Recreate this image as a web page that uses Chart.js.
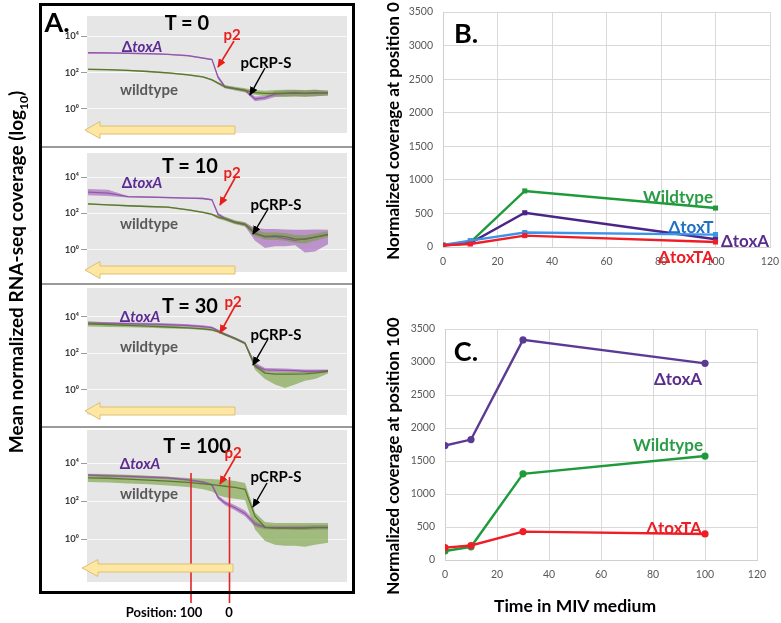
<!DOCTYPE html>
<html>
<head>
<meta charset="utf-8">
<script src="https://cdn.jsdelivr.net/npm/chart.js@4.4.1/dist/chart.umd.min.js"></script>
<style>
  body { margin: 0; width: 781px; height: 623px; position: relative; overflow: hidden; background: #fff; font-family: Lato, "Open Sans", "DejaVu Sans", sans-serif; }
  .box { position: absolute; }
  .lbl { position: absolute; transform: translate(-50%, -50%); font-weight: bold; line-height: 1; white-space: nowrap; }
  .rot { transform: translate(-50%, -50%) rotate(-90deg); }
  .it { font-style: italic; }
</style>
</head>
<body>

<div class="box" style="left:42px;top:6px"><canvas id="covT0" width="310" height="141"></canvas></div>
<div class="box" style="left:42px;top:148px"><canvas id="covT10" width="310" height="136"></canvas></div>
<div class="box" style="left:42px;top:285px"><canvas id="covT30" width="310" height="142"></canvas></div>
<div class="box" style="left:42px;top:428px"><canvas id="covT100" width="310" height="164"></canvas></div>
<div class="box" style="left:375px;top:0px"><canvas id="pos0Chart" width="406" height="280"></canvas></div>
<div class="box" style="left:375px;top:300px"><canvas id="pos100Chart" width="406" height="323"></canvas></div>

<svg class="box" style="left:0;top:0" width="781" height="623">
  <defs>
    <marker id="headRed" markerWidth="9" markerHeight="8" refX="8" refY="4" orient="auto" markerUnits="userSpaceOnUse"><path d="M0,0 L9,4 L0,8 z" fill="#e8201c"/></marker>
    <marker id="headBlack" markerWidth="9" markerHeight="8" refX="8" refY="4" orient="auto" markerUnits="userSpaceOnUse"><path d="M0,0 L9,4 L0,8 z" fill="#000"/></marker>
  </defs>
  <!-- panel A frame -->
  <g stroke="#9a9a9a" stroke-width="2">
    <line x1="41" y1="147" x2="353" y2="147"/>
    <line x1="41" y1="284" x2="353" y2="284"/>
    <line x1="41" y1="427" x2="353" y2="427"/>
  </g>
  <!-- position markers -->
  <g stroke="#e02626" stroke-width="1.6">
    <line x1="191" y1="473" x2="191" y2="603"/>
    <line x1="229.5" y1="477" x2="229.5" y2="603"/>
  </g>
  <rect x="40.5" y="4.5" width="313" height="588" fill="none" stroke="#000" stroke-width="3"/>
  <!-- yellow direction arrows -->
  <g fill="#fde7a3" stroke="#dcc070" stroke-width="1">
    <path d="M85,130 L100,121.5 L100,126 L235,126 L235,134 L100,134 L100,138.5 Z"/>
    <path d="M85,270 L100,261.5 L100,266 L235,266 L235,274 L100,274 L100,278.5 Z"/>
    <path d="M85,411 L100,402.5 L100,407 L235,407 L235,415 L100,415 L100,419.5 Z"/>
    <path d="M82,568 L98,559.5 L98,564 L233,564 L233,572 L98,572 L98,576.5 Z"/>
  </g>
  <!-- p2 pointers -->
  <g stroke="#e8201c" stroke-width="1.6" marker-end="url(#headRed)">
    <line x1="234" y1="41" x2="218" y2="67"/>
    <line x1="235" y1="178" x2="220" y2="205"/>
    <line x1="235" y1="306" x2="220" y2="333"/>
    <line x1="235" y1="458" x2="220" y2="484"/>
  </g>
  <!-- pCRP-S pointers -->
  <g stroke="#000" stroke-width="1.4" marker-end="url(#headBlack)">
    <line x1="265" y1="68" x2="250" y2="95"/>
    <line x1="268" y1="209" x2="253" y2="234"/>
    <line x1="268" y1="339" x2="253" y2="365"/>
    <line x1="267" y1="483" x2="253" y2="507"/>
  </g>
</svg>

<div class="lbl rot" style="left:18px;top:272px;font-size:19px">Mean normalized RNA-seq coverage (log<sub style="font-size:12px">10</sub>)</div>
<div class="lbl rot" style="left:392px;top:131px;font-size:17px">Normalized coverage at position 0</div>
<div class="lbl rot" style="left:392px;top:456px;font-size:17px">Normalized coverage at position 100</div>
<div class="lbl" style="left:575px;top:606px;font-size:17.5px">Time in MIV medium</div>

<div class="lbl" style="left:57px;top:21px;font-size:27px">A.</div>
<div class="lbl" style="left:187px;top:22px;font-size:20px">T = 0</div>
<div class="lbl" style="left:190px;top:165px;font-size:20px">T = 10</div>
<div class="lbl" style="left:190px;top:305px;font-size:20px">T = 30</div>
<div class="lbl" style="left:197px;top:445px;font-size:20px">T = 100</div>

<div class="lbl" style="left:142px;top:46px;font-size:15px;color:#5b2a92">Δ<span class="it">toxA</span></div>
<div class="lbl" style="left:142px;top:182px;font-size:15px;color:#5b2a92">Δ<span class="it">toxA</span></div>
<div class="lbl" style="left:140px;top:316px;font-size:15px;color:#5b2a92">Δ<span class="it">toxA</span></div>
<div class="lbl" style="left:140px;top:463px;font-size:15px;color:#5b2a92">Δ<span class="it">toxA</span></div>

<div class="lbl" style="left:149px;top:89px;font-size:15px;color:#595959">wildtype</div>
<div class="lbl" style="left:149px;top:223px;font-size:15px;color:#595959">wildtype</div>
<div class="lbl" style="left:149px;top:346px;font-size:15px;color:#595959">wildtype</div>
<div class="lbl" style="left:149px;top:493px;font-size:15px;color:#595959">wildtype</div>

<div class="lbl" style="left:232px;top:34px;font-size:15px;color:#e8201c">p2</div>
<div class="lbl" style="left:232px;top:172px;font-size:15px;color:#e8201c">p2</div>
<div class="lbl" style="left:233px;top:301px;font-size:15px;color:#e8201c">p2</div>
<div class="lbl" style="left:233px;top:452px;font-size:15px;color:#e8201c">p2</div>

<div class="lbl" style="left:266px;top:62px;font-size:15px">pCRP-S</div>
<div class="lbl" style="left:276px;top:204px;font-size:15px">pCRP-S</div>
<div class="lbl" style="left:276px;top:334px;font-size:15px">pCRP-S</div>
<div class="lbl" style="left:276px;top:476px;font-size:15px">pCRP-S</div>

<div class="lbl" style="left:164px;top:612px;font-size:13px">Position: 100</div>
<div class="lbl" style="left:229px;top:612px;font-size:13px">0</div>

<div class="lbl" style="left:466px;top:32px;font-size:27px">B.</div>
<div class="lbl" style="left:678px;top:196px;font-size:17px;color:#2a9c45">Wildtype</div>
<div class="lbl" style="left:691px;top:226px;font-size:17px;color:#1f6fc5">ΔtoxT</div>
<div class="lbl" style="left:745px;top:240px;font-size:17px;color:#5a2d8c">ΔtoxA</div>
<div class="lbl" style="left:686px;top:256px;font-size:17px;color:#ee1c24">ΔtoxTA</div>

<div class="lbl" style="left:466px;top:350px;font-size:27px">C.</div>
<div class="lbl" style="left:678px;top:378px;font-size:17px;color:#5a2d8c">ΔtoxA</div>
<div class="lbl" style="left:668px;top:444px;font-size:17px;color:#2a9c45">Wildtype</div>
<div class="lbl" style="left:674px;top:527px;font-size:17px;color:#ee1c24">ΔtoxTA</div>

<script>
// genome window shown in panel A (bp)
const positions = [703100, 703140, 703180, 703220, 703260, 703300, 703330, 703348, 703360, 703374,
                   703394, 703414, 703434, 703454, 703474, 703494, 703514, 703534, 703554, 703580];
const genomeTicks = [703200, 703400, 703600];
const logTicks = [0, 2, 4];

// log10 coverage
const toxA_T0    = [3.09, 3.08, 3.06, 3.04, 3.00, 2.93, 2.80, 2.72, 1.75, 1.22, 1.12, 1.03, 0.55, 0.62, 0.82, 0.86, 0.88, 0.86, 0.88, 0.87];
const toxA_T0_hi = [3.13, 3.12, 3.10, 3.08, 3.04, 2.97, 2.84, 2.76, 1.85, 1.30, 1.18, 1.10, 0.68, 0.72, 0.98, 1.02, 1.05, 1.02, 1.06, 1.00];
const toxA_T0_lo = [3.05, 3.04, 3.02, 3.00, 2.96, 2.89, 2.76, 2.68, 1.65, 1.14, 1.06, 0.96, 0.42, 0.50, 0.66, 0.70, 0.70, 0.70, 0.70, 0.74];
const wt_T0      = [2.18, 2.16, 2.12, 2.06, 1.98, 1.88, 1.76, 1.60, 1.42, 1.22, 1.12, 1.02, 0.90, 0.86, 0.86, 0.86, 0.88, 0.86, 0.88, 0.88];
const wt_T0_hi   = [2.22, 2.20, 2.16, 2.10, 2.02, 1.92, 1.80, 1.65, 1.48, 1.30, 1.22, 1.14, 1.04, 1.00, 1.04, 1.06, 1.06, 1.04, 1.06, 1.02];
const wt_T0_lo   = [2.14, 2.12, 2.08, 2.02, 1.94, 1.84, 1.72, 1.55, 1.36, 1.14, 1.02, 0.90, 0.78, 0.70, 0.68, 0.66, 0.68, 0.66, 0.70, 0.74];

const toxA_T10    = [3.17, 3.12, 2.92, 2.90, 2.87, 2.84, 2.82, 2.75, 1.95, 1.72, 1.52, 1.40, 0.95, 0.70, 0.72, 0.62, 0.52, 0.62, 0.70, 0.82];
const toxA_T10_hi = [3.34, 3.30, 2.96, 2.94, 2.91, 2.88, 2.86, 2.79, 2.03, 1.80, 1.60, 1.50, 1.20, 1.15, 1.15, 1.12, 1.10, 1.10, 1.12, 1.10];
const toxA_T10_lo = [3.00, 2.96, 2.88, 2.86, 2.83, 2.80, 2.78, 2.71, 1.87, 1.64, 1.44, 1.30, 0.50, 0.10, 0.20, 0.20, 0.25, -0.15, -0.10, 0.30];
const wt_T10      = [2.52, 2.47, 2.42, 2.38, 2.34, 2.20, 2.06, 1.95, 1.80, 1.70, 1.50, 1.40, 0.88, 0.74, 0.76, 0.72, 0.60, 0.57, 0.70, 0.85];
const wt_T10_hi   = [2.56, 2.51, 2.46, 2.42, 2.38, 2.24, 2.10, 2.00, 1.90, 1.82, 1.62, 1.52, 1.10, 0.95, 0.95, 0.92, 0.82, 0.80, 0.90, 1.00];
const wt_T10_lo   = [2.48, 2.43, 2.38, 2.34, 2.30, 2.16, 2.02, 1.90, 1.70, 1.60, 1.40, 1.28, 0.75, 0.55, 0.55, 0.50, 0.38, 0.35, 0.50, 0.70];

const toxA_T30    = [3.65, 3.63, 3.62, 3.60, 3.57, 3.52, 3.46, 3.40, 3.24, 3.05, 2.82, 2.55, 1.35, 1.10, 1.08, 1.07, 1.05, 1.02, 1.02, 1.05];
const toxA_T30_hi = [3.72, 3.70, 3.69, 3.67, 3.64, 3.59, 3.53, 3.47, 3.30, 3.11, 2.88, 2.62, 1.50, 1.20, 1.18, 1.17, 1.15, 1.12, 1.12, 1.12];
const toxA_T30_lo = [3.58, 3.56, 3.55, 3.53, 3.50, 3.45, 3.39, 3.33, 3.18, 2.99, 2.76, 2.48, 1.20, 1.00, 0.98, 0.97, 0.95, 0.92, 0.92, 0.98];
const wt_T30      = [3.61, 3.57, 3.53, 3.49, 3.44, 3.39, 3.34, 3.28, 3.18, 3.02, 2.80, 2.55, 1.30, 0.92, 0.86, 0.86, 0.86, 0.88, 0.92, 1.02];
const wt_T30_hi   = [3.75, 3.70, 3.64, 3.58, 3.52, 3.45, 3.40, 3.34, 3.24, 3.08, 2.86, 2.62, 1.45, 1.02, 0.98, 0.98, 0.98, 0.98, 1.00, 1.06];
const wt_T30_lo   = [3.47, 3.44, 3.42, 3.40, 3.36, 3.33, 3.28, 3.22, 3.12, 2.96, 2.74, 2.48, 1.10, 0.60, 0.30, 0.10, 0.30, 0.50, 0.60, 0.90];

const toxA_T100    = [3.36, 3.33, 3.30, 3.26, 3.22, 3.12, 3.00, 2.85, 2.20, 1.90, 1.65, 1.35, 0.80, 0.62, 0.60, 0.60, 0.60, 0.60, 0.62, 0.62];
const toxA_T100_hi = [3.42, 3.39, 3.36, 3.32, 3.28, 3.18, 3.06, 2.91, 2.30, 2.02, 1.78, 1.50, 0.95, 0.72, 0.70, 0.70, 0.72, 0.72, 0.74, 0.74];
const toxA_T100_lo = [3.30, 3.27, 3.24, 3.20, 3.16, 3.06, 2.94, 2.79, 2.10, 1.78, 1.52, 1.20, 0.65, 0.52, 0.50, 0.50, 0.48, 0.48, 0.50, 0.50];
const wt_T100      = [3.22, 3.20, 3.15, 3.10, 3.05, 2.98, 2.90, 2.86, 2.82, 2.78, 2.72, 2.62, 1.20, 0.62, 0.58, 0.58, 0.58, 0.58, 0.60, 0.60];
const wt_T100_hi   = [3.44, 3.42, 3.38, 3.33, 3.28, 3.22, 3.18, 3.16, 3.14, 3.12, 3.05, 2.95, 1.40, 0.90, 0.85, 0.85, 0.85, 0.85, 0.85, 0.85];
const wt_T100_lo   = [3.00, 2.98, 2.93, 2.88, 2.82, 2.74, 2.62, 2.50, 2.30, 2.20, 2.12, 2.05, 0.50, -0.10, -0.30, -0.35, -0.35, -0.40, -0.30, -0.20];

// panels B and C: time in MIV medium (min)
const minutes = [0, 10, 30, 100];
const timeTicks = [0, 20, 40, 60, 80, 100, 120];
const coverageTicks = [0, 500, 1000, 1500, 2000, 2500, 3000, 3500];
const pos0Wildtype = [25, 70, 835, 580];
const pos0ToxA = [20, 60, 510, 115];
const pos0ToxT = [30, 95, 215, 185];
const pos0ToxTA = [25, 45, 170, 75];
const pos100ToxA = [1735, 1825, 3335, 2980];
const pos100Wildtype = [137, 200, 1305, 1575];
const pos100ToxTA = [187, 220, 430, 395];

const FONT = 'Lato, "Open Sans", "DejaVu Sans", sans-serif';
const SUP = { 0: '\u2070', 2: '\u00b2', 4: '\u2074' };
const xy = (xs, ys) => xs.map((x, i) => ({ x, y: ys[i] }));

// scale box sizes are pinned so the plot areas land where the figure has them
const pinBox = (w, h) => (scale) => {
    if (w != null) scale.width = w;
    if (h != null) scale.height = h;
    scale.paddingTop = 0;
    scale.paddingBottom = 0;
    scale.paddingLeft = 0;
    scale.paddingRight = 0;
};

Chart.register({
    id: 'plotBg',
    beforeDraw(chart, args, opts) {
        if (!opts.color) return;
        const { ctx, chartArea: a } = chart;
        ctx.save();
        ctx.fillStyle = opts.color;
        ctx.fillRect(a.left, a.top, a.width, a.height);
        ctx.restore();
    }
});

function band(values, color, fill) {
    return {
        data: xy(positions, values),
        borderWidth: 0,
        borderColor: 'transparent',
        backgroundColor: color,
        pointRadius: 0,
        fill: fill
    };
}

function coverageChart(id, t, yMin, yMax, pad, showX) {
    return new Chart(document.getElementById(id), {
        type: 'line',
        data: {
            datasets: [
                { data: xy(positions, t.wt), borderColor: '#5d7632', borderWidth: 1.3, pointRadius: 0, fill: false },
                { data: xy(positions, t.toxA), borderColor: '#9257ad', borderWidth: 1.3, pointRadius: 0, fill: false },
                band(t.wtHi, 'rgba(118, 158, 62, 0.62)', '+1'),
                band(t.wtLo, 'transparent', false),
                band(t.toxAHi, 'rgba(160, 96, 184, 0.62)', '+1'),
                band(t.toxALo, 'transparent', false)
            ]
        },
        options: {
            responsive: false,
            animation: false,
            events: [],
            layout: { padding: pad },
            plugins: { legend: { display: false }, tooltip: { enabled: false }, plotBg: { color: '#e6e6e6' } },
            scales: {
                x: {
                    type: 'linear', min: 703098, max: 703618, display: showX,
                    afterBuildTicks: (s) => { s.ticks = genomeTicks.map((v) => ({ value: v })); },
                    ticks: { callback: (v) => String(v), font: { size: 5, family: FONT }, color: '#8a8a8a', padding: 1, maxRotation: 0 },
                    grid: { display: false },
                    border: { display: false },
                    afterFit: pinBox(null, 10)
                },
                y: {
                    min: yMin, max: yMax,
                    afterBuildTicks: (s) => { s.ticks = logTicks.map((v) => ({ value: v })); },
                    ticks: { callback: (v) => '10' + SUP[v], font: { size: 9.5, weight: 'bold', family: FONT }, color: '#3a3a3a', padding: 2 },
                    grid: { color: 'rgba(255,255,255,0.8)', tickColor: '#9a9a9a', tickLength: 6 },
                    border: { display: false },
                    afterFit: pinBox(45, null)
                }
            }
        }
    });
}

coverageChart('covT0', { toxA: toxA_T0, toxAHi: toxA_T0_hi, toxALo: toxA_T0_lo, wt: wt_T0, wtHi: wt_T0_hi, wtLo: wt_T0_lo },
    -1.32, 5.11, { top: 10, bottom: 4, right: 5, left: 0 }, false);
coverageChart('covT10', { toxA: toxA_T10, toxAHi: toxA_T10_hi, toxALo: toxA_T10_lo, wt: wt_T10, wtHi: wt_T10_hi, wtLo: wt_T10_lo },
    -1.22, 5.32, { top: 5, bottom: 2, right: 5, left: 0 }, false);
coverageChart('covT30', { toxA: toxA_T30, toxAHi: toxA_T30_hi, toxALo: toxA_T30_lo, wt: wt_T30, wtHi: wt_T30_hi, wtLo: wt_T30_lo },
    -1.37, 5.57, { top: 3, bottom: 2, right: 5, left: 0 }, false);
coverageChart('covT100', { toxA: toxA_T100, toxAHi: toxA_T100_hi, toxALo: toxA_T100_lo, wt: wt_T100, wtHi: wt_T100_hi, wtLo: wt_T100_lo },
    -2.26, 5.74, { top: 2, bottom: 0, right: 5, left: 0 }, true);

function timeSeries(values, color, marker) {
    return {
        data: xy(minutes, values),
        borderColor: color,
        backgroundColor: color,
        borderWidth: 2.4,
        pointStyle: marker,
        pointRadius: 3.6,
        pointBorderWidth: 0,
        fill: false
    };
}

function timeChart(id, datasets, pad, yWidth, xHeight) {
    return new Chart(document.getElementById(id), {
        type: 'line',
        data: { datasets },
        options: {
            responsive: false,
            animation: false,
            events: [],
            layout: { padding: pad },
            plugins: { legend: { display: false }, tooltip: { enabled: false } },
            scales: {
                x: {
                    type: 'linear', min: 0, max: 120,
                    afterBuildTicks: (s) => { s.ticks = timeTicks.map((v) => ({ value: v })); },
                    ticks: { font: { size: 10.5, family: FONT }, color: '#595959', padding: 8, maxRotation: 0 },
                    grid: { color: '#d9d9d9', drawTicks: false },
                    border: { color: '#cfcfcf' },
                    afterFit: pinBox(null, xHeight)
                },
                y: {
                    min: 0, max: 3500,
                    afterBuildTicks: (s) => { s.ticks = coverageTicks.map((v) => ({ value: v })); },
                    ticks: { callback: (v) => String(v), font: { size: 10.5, family: FONT }, color: '#595959', padding: 10 },
                    grid: { color: '#d9d9d9', drawTicks: false },
                    border: { color: '#cfcfcf' },
                    afterFit: pinBox(yWidth, null)
                }
            }
        }
    });
}

timeChart('pos0Chart', [
    timeSeries(pos0ToxTA, '#ef1d25', 'rect'),
    timeSeries(pos0ToxT, '#3d93e8', 'rect'),
    timeSeries(pos0ToxA, '#4b2487', 'rect'),
    timeSeries(pos0Wildtype, '#1f9a3a', 'rect')
], { top: 12, right: 11, bottom: 0, left: 0 }, 68, 33);

timeChart('pos100Chart', [
    timeSeries(pos100ToxTA, '#ef1d25', 'circle'),
    timeSeries(pos100Wildtype, '#1f9a3a', 'circle'),
    timeSeries(pos100ToxA, '#5b3a94', 'circle')
], { top: 29, right: 24, bottom: 0, left: 0 }, 70, 63);
</script>
</body>
</html>
